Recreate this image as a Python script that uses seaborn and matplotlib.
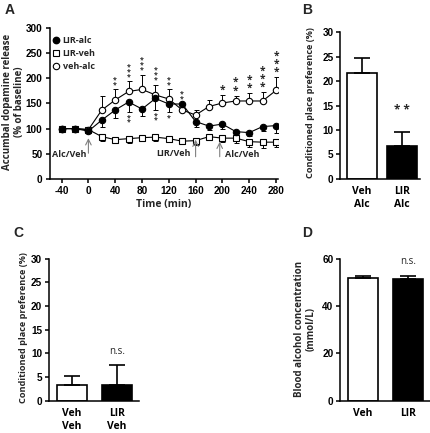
import matplotlib
matplotlib.use("Agg")
import matplotlib.pyplot as plt
from matplotlib.lines import Line2D
import seaborn as sns

# panel A - dopamine release over time
time = [-40, -20, 0, 20, 40, 60, 80, 100, 120, 140, 160, 180, 200, 220, 240, 260, 280]
veh_alc = [100, 100, 98, 137, 157, 174, 178, 167, 159, 137, 127, 144, 151, 155, 155, 155, 176]
veh_alc_err = [0, 0, 0, 28, 21, 20, 29, 20, 19, 12, 10, 13, 16, 10, 15, 17, 26]
lir_alc = [100, 100, 95, 117, 137, 153, 139, 160, 149, 149, 114, 105, 109, 94, 92, 104, 106]
lir_alc_err = [0, 0, 0, 13, 16, 19, 14, 22, 15, 10, 11, 8, 10, 9, 6, 8, 15]
lir_veh = [100, 100, 98, 84, 78, 80, 82, 83, 80, 75, 76, 84, 81, 81, 74, 73, 73]
lir_veh_err = [0, 0, 0, 8, 6, 9, 7, 8, 6, 6, 8, 7, 8, 9, 10, 12, 10]

# significance stars (count per time point)
stars_top = {40: 2, 60: 3, 80: 3, 100: 3, 120: 2, 140: 2, 200: 1, 220: 2, 240: 2, 260: 3, 280: 3}
stars_low = {60: 2, 100: 2, 120: 1}

# panels B, C, D
cpp_alc_labels = ["Veh\nAlc", "LIR\nAlc"]
cpp_alc = [21.6, 6.8]
cpp_alc_err = [3.2, 2.8]

cpp_veh_labels = ["Veh\nVeh", "LIR\nVeh"]
cpp_veh = [3.4, 3.3]
cpp_veh_err = [1.9, 4.2]

bac_labels = ["Veh", "LIR"]
bac = [51.9, 51.2]
bac_err = [0.8, 1.4]

sns.set_style("ticks")
plt.rcParams['font.family'] = ['Open Sans', 'DejaVu Sans']
plt.rcParams['font.weight'] = 'bold'
plt.rcParams['axes.linewidth'] = 1.1
plt.rcParams['xtick.major.width'] = 1.1
plt.rcParams['ytick.major.width'] = 1.1
plt.rcParams['xtick.major.size'] = 3
plt.rcParams['ytick.major.size'] = 3
plt.rcParams['xtick.color'] = 'black'
plt.rcParams['ytick.color'] = 'black'
plt.rcParams['axes.edgecolor'] = 'black'

LAB = ['Open Sans', 'DejaVu Sans']
NUM = ['Liberation Sans', 'DejaVu Sans']

fig = plt.figure(figsize=(4.31, 4.33), dpi=100)
axA = fig.add_axes([0.115, 0.587, 0.530, 0.348])
axB = fig.add_axes([0.790, 0.587, 0.184, 0.338])
axC = fig.add_axes([0.114, 0.074, 0.209, 0.329])
axD = fig.add_axes([0.790, 0.074, 0.209, 0.329])


def num_ticks(ax, ticks):
    ax.set_yticks(ticks, labels=[str(v) for v in ticks], fontweight='bold', fontsize=7.2,
                  family=NUM)


# ---- panel A ----
zeros = [0] * len(time)
axA.errorbar(time, lir_veh, yerr=[lir_veh_err, zeros], fmt='none', ecolor='black',
             elinewidth=0.7, capsize=1.8, capthick=0.7, zorder=2)
axA.errorbar(time, veh_alc, yerr=[zeros, veh_alc_err], fmt='none', ecolor='black',
             elinewidth=0.7, capsize=1.8, capthick=0.7, zorder=2)
axA.errorbar(time, lir_alc, yerr=[lir_alc_err, zeros], fmt='none', ecolor='black',
             elinewidth=0.7, capsize=1.8, capthick=0.7, zorder=2)

sns.lineplot(x=time, y=lir_veh, ax=axA, color='black', lw=0.8, marker='s',
             markerfacecolor='white', markeredgecolor='black', markersize=4,
             markeredgewidth=0.8, zorder=3)
sns.lineplot(x=time, y=veh_alc, ax=axA, color='black', lw=0.8, marker='o',
             markerfacecolor='white', markeredgecolor='black', markersize=4.6,
             markeredgewidth=0.8, zorder=4)
sns.lineplot(x=time, y=lir_alc, ax=axA, color='black', lw=0.8, marker='o',
             markerfacecolor='black', markeredgecolor='black', markersize=4.6,
             markeredgewidth=0.8, zorder=5)

# stars, stacked vertically (small ones early, larger ones late)
for t, n in stars_top.items():
    i = time.index(t)
    top = veh_alc[i] + veh_alc_err[i]
    if t <= 140:
        axA.text(t, top + 2.5, '\n'.join(['*'] * n), ha='center', va='bottom', fontsize=5,
                 fontweight='bold', linespacing=0.58)
    else:
        axA.text(t, top - 1, '\n'.join(['*'] * n), ha='center', va='bottom', fontsize=7.3,
                 fontweight='bold', linespacing=0.66)
for t, n in stars_low.items():
    i = time.index(t)
    low = lir_alc[i] - lir_alc_err[i]
    axA.text(t, low - 5, '\n'.join(['*'] * n), ha='center', va='top', fontsize=5,
             fontweight='bold', linespacing=0.58)

# injection arrows
arrow_kw = dict(arrowstyle='->', color='grey', lw=0.8, shrinkA=0, shrinkB=0)
axA.annotate('', xy=(0, 81), xytext=(0, 51), arrowprops=arrow_kw)
axA.annotate('', xy=(160, 78), xytext=(160, 44), arrowprops=arrow_kw)
axA.annotate('', xy=(196, 74), xytext=(196, 44), arrowprops=arrow_kw)
for x, y, s in [(-28, 48, 'Alc/Veh'), (127, 50, 'LIR/Veh'), (230, 48, 'Alc/Veh')]:
    axA.text(x, y, s, ha='center', va='center', fontsize=6.5, fontweight='bold')

axA.set_xlim(-58, 283)
axA.set_ylim(0, 300)
xt = list(range(-40, 281, 40))
axA.set_xticks(xt, labels=[str(v) for v in xt], fontweight='bold', fontsize=7.2, family=NUM)
num_ticks(axA, list(range(0, 301, 50)))
axA.tick_params(pad=2)
axA.set_xlabel('Time (min)', fontsize=7.5, fontweight='bold', labelpad=2)
axA.set_ylabel('Accumbal dopamine release\n(% of baseline)', fontsize=7,
               fontweight='bold', linespacing=1.1)
axA.yaxis.set_label_coords(-0.107, 0.51)
sns.despine(ax=axA)

handles = [
    Line2D([], [], marker='o', color='black', markerfacecolor='black', linestyle='none',
           markersize=4.6),
    Line2D([], [], marker='s', color='black', markerfacecolor='white', linestyle='none',
           markersize=4.6, markeredgewidth=0.8),
    Line2D([], [], marker='o', color='black', markerfacecolor='white', linestyle='none',
           markersize=4.6, markeredgewidth=0.8),
]
axA.legend(handles, ['LIR-alc', 'LIR-veh', 'veh-alc'], loc='upper left',
           bbox_to_anchor=(0.01, 0.95), frameon=False,
           prop={'family': LAB, 'size': 6.5, 'weight': 'bold'},
           handlelength=1, handletextpad=0.2, labelspacing=0.45, borderpad=0,
           borderaxespad=0)


# ---- bar panels ----
def bar_panel(ax, labels, vals, errs, width, ylim, yticks, ylabel, label_x, label_y):
    sns.barplot(x=labels, y=vals, hue=labels, palette=['white', 'black'], legend=False,
                edgecolor='black', linewidth=1.2, width=width, errorbar=None, ax=ax)
    ax.errorbar([0, 1], vals, yerr=[[0, 0], errs], fmt='none', ecolor='black',
                elinewidth=1.2, capsize=5.8, capthick=1.2, zorder=3)
    ax.set_ylim(*ylim)
    num_ticks(ax, yticks)
    ax.tick_params(axis='y', pad=2)
    ax.tick_params(axis='x', length=0, pad=5)
    ax.set_xticks([0, 1], labels=labels, fontweight='bold', fontsize=7.5, linespacing=1.3)
    ax.set_ylabel(ylabel, fontweight='bold', fontsize=6.6, linespacing=1.1)
    ax.yaxis.set_label_coords(label_x, label_y)
    ax.set_xlabel('')
    sns.despine(ax=ax)


bar_panel(axB, cpp_alc_labels, cpp_alc, cpp_alc_err, 0.76, (0, 30), list(range(0, 31, 5)),
          'Conditioned place preference (%)', -0.324, 0.52)
axB.set_xlim(-0.53, 1.44)
axB.text(1, 14.0, '* *', ha='center', va='center', fontsize=8.5, fontweight='bold')

bar_panel(axC, cpp_veh_labels, cpp_veh, cpp_veh_err, 0.68, (0, 30), list(range(0, 31, 5)),
          'Conditioned place preference (%)', -0.23, 0.515)
axC.set_xlim(-0.51, 1.49)
axC.text(1, 10.5, 'n.s.', ha='center', va='center', fontsize=7, fontweight='normal')

bar_panel(axD, bac_labels, bac, bac_err, 0.68, (0, 60), list(range(0, 61, 20)),
          'Blood alcohol concentration\n(mmol/L)', -0.267, 0.505)
axD.set_xlim(-0.50, 1.50)
axD.yaxis.label.set_fontsize(7)
axD.text(1, 58.6, 'n.s.', ha='center', va='center', fontsize=7, fontweight='normal')

# panel letters
for x, y, s in [(0.023, 0.977, 'A'), (0.712, 0.977, 'B'), (0.042, 0.462, 'C'),
                (0.712, 0.462, 'D')]:
    fig.text(x, y, s, ha='center', va='center', fontsize=10, fontweight='bold',
             family=NUM)

fig.savefig('out.png', dpi=100)
